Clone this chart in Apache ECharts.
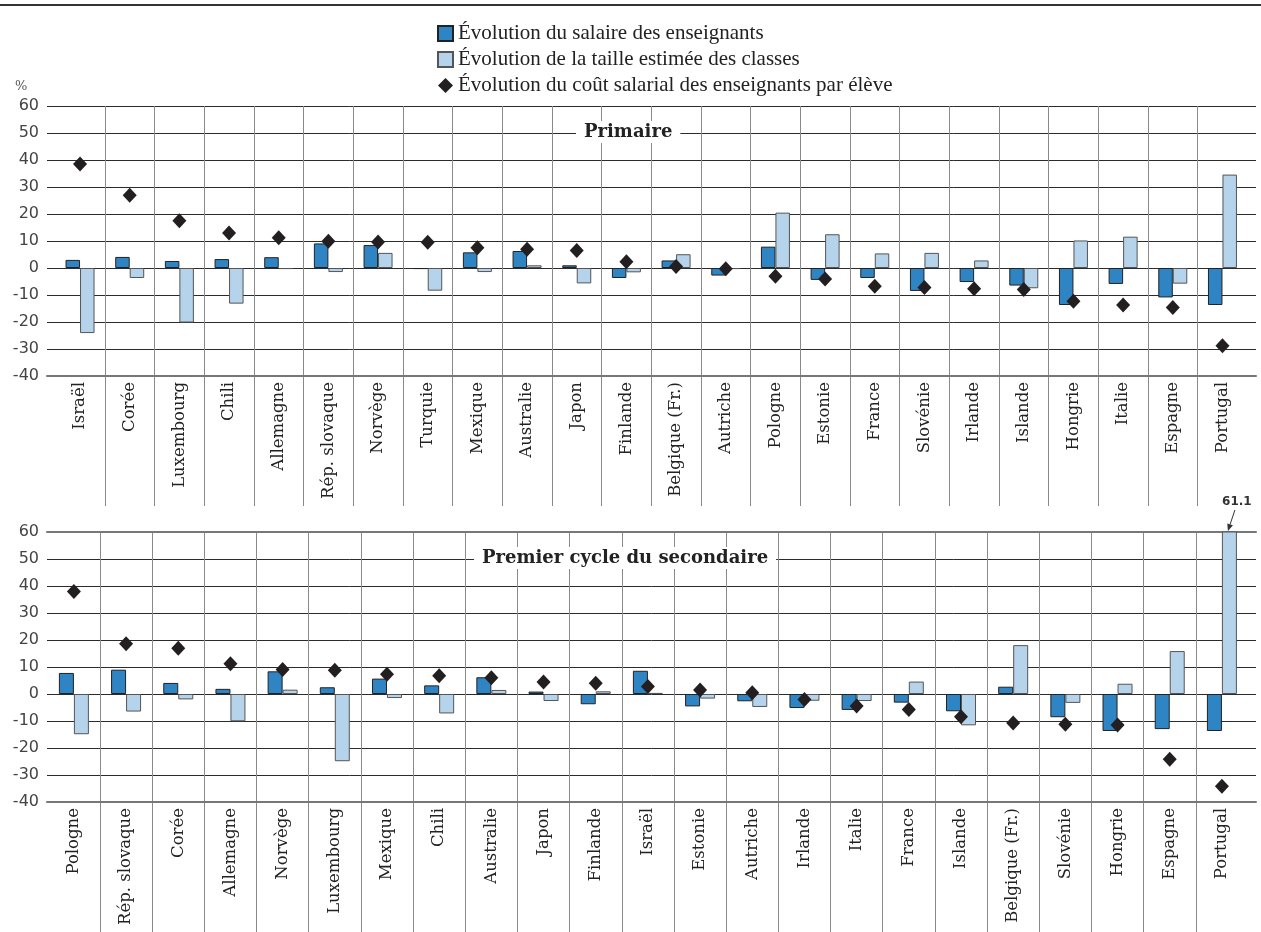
<!DOCTYPE html>
<html>
<head>
<meta charset="utf-8">
<script src="https://cdn.jsdelivr.net/npm/echarts@6/dist/echarts.min.js"></script>
<style>
html,body{margin:0;padding:0;background:#fff;}
#c{width:1261px;height:932px;}
</style>
</head>
<body>
<div id="c"></div>
<script>
// ---- data ----
const seriesNames = ['Évolution du salaire des enseignants', 'Évolution de la taille estimée des classes', 'Évolution du coût salarial des enseignants par élève'];
const panelTitles = ['Primaire', 'Premier cycle du secondaire'];
const yMin = -40, yMax = 60, yStep = 10;

const catPrim = ['Israël','Corée','Luxembourg','Chili','Allemagne','Rép. slovaque','Norvège','Turquie','Mexique','Australie','Japon','Finlande','Belgique (Fr.)','Autriche','Pologne','Estonie','France','Slovénie','Irlande','Islande','Hongrie','Italie','Espagne','Portugal'];
const salPrim = [3.0, 4.1, 2.6, 3.3, 4.0, 9.1, 8.5, -0.4, 5.8, 6.3, 1.0, -3.7, 2.8, -2.8, 7.9, -4.4, -3.7, -8.5, -5.2, -6.5, -13.7, -5.9, -10.9, -13.7];
const taillePrim = [-24.1, -3.7, -20.2, -13.2, -0.4, -1.5, 5.6, -8.4, -1.5, 1.0, -5.7, -1.6, 5.1, -0.4, 20.5, 12.5, 5.4, 5.6, 2.8, -7.5, 10.2, 11.6, -5.8, 34.6];
const coutPrim = [38.5, 26.9, 17.5, 13.0, 11.2, 9.9, 9.6, 9.5, 7.5, 6.9, 6.5, 2.3, 0.6, -0.3, -3.1, -4.1, -6.8, -7.2, -7.7, -8.0, -12.3, -13.7, -14.6, -28.8];

const catSec = ['Pologne','Rép. slovaque','Corée','Allemagne','Norvège','Luxembourg','Mexique','Chili','Australie','Japon','Finlande','Israël','Estonie','Autriche','Irlande','Italie','France','Islande','Belgique (Fr.)','Slovénie','Hongrie','Espagne','Portugal'];
const salSec = [7.8, 9.0, 4.1, 1.9, 8.4, 2.5, 5.7, 3.2, 6.2, 0.9, -3.8, 8.6, -4.6, -2.7, -5.2, -5.9, -3.2, -6.4, 2.7, -8.6, -13.7, -13.0, -13.7];
const tailleSec = [-14.9, -6.5, -2.0, -10.1, 1.6, -24.9, -1.5, -7.2, 1.5, -2.6, 1.0, 0.4, -1.7, -4.8, -2.5, -2.6, 4.6, -11.6, 18.1, -3.3, 3.8, 15.9, 61.1];
const coutSec = [38.0, 18.6, 16.9, 11.2, 9.1, 8.8, 7.3, 6.8, 6.0, 4.4, 4.0, 2.8, 1.5, 0.5, -2.0, -4.4, -5.7, -8.4, -10.7, -11.2, -11.5, -24.2, -34.2];
const outlierCategory = 'Portugal';
const outlierLabel = '61.1';

// ---- styles ----
const DARK = '#2f84c4', LIGHT = '#b5d3eb', DIAM = '#231f20';
const VLINE = '#8a8a8a', HLINE = '#2b2b2b';

const chart = echarts.init(document.getElementById('c'), null, {renderer: 'canvas'});

function frameX(gridIndex, position, showLine) {
  return {
    gridIndex, type: 'category', data: [''], position,
    axisLine: {show: showLine, onZero: false, lineStyle: {color: '#777', width: 2}},
    axisTick: {show: false}, axisLabel: {show: false}, splitLine: {show: false}
  };
}
function catX(gridIndex, data, labels) {
  return {
    gridIndex, type: 'category', data, boundaryGap: true,
    axisLine: {show: false, onZero: false}, axisTick: {show: false},
    axisLabel: labels ? {
      show: true, interval: 0, rotate: 90, margin: 6,
      fontFamily: 'DejaVu Serif', fontSize: 16.5, color: '#222'
    } : {show: false},
    splitLine: {show: true, showMinLine: false, showMaxLine: false, interval: 0,
      lineStyle: {color: VLINE, width: 1}}
  };
}
function frameY(gridIndex) {
  return {
    gridIndex, type: 'value', min: yMin, max: yMax, interval: yStep,
    axisLine: {show: false}, axisTick: {show: false},
    axisLabel: {fontFamily: 'DejaVu Sans', fontSize: 16, color: '#444', margin: 8},
    splitLine: {show: true, lineStyle: {color: HLINE, width: 1}}
  };
}
function hiddenY(gridIndex) {
  return {gridIndex, type: 'value', min: yMin, max: yMax, interval: yStep, show: false};
}

const barBase = {type: 'bar', barWidth: 15, barGap: '0%', z: 3};
const diamondStyle = {color: DIAM, opacity: 1};

const option = {
  animation: false,
  backgroundColor: '#fff',
  legend: {
    orient: 'vertical', left: 432, top: 18, itemWidth: 15, itemHeight: 15, itemGap: 5,
    textStyle: {fontFamily: 'Liberation Serif', fontSize: 21, color: '#222'},
    data: [
      {name: seriesNames[0], icon: 'rect'},
      {name: seriesNames[1], icon: 'rect'},
      {name: seriesNames[2], icon: 'diamond'}
    ]
  },
  title: [
    {text: panelTitles[0], left: 576, top: 121, backgroundColor: '#fff', padding: [2, 8],
      textStyle: {fontFamily: 'DejaVu Serif', fontWeight: 'bold', fontSize: 18, color: '#222'}},
    {text: panelTitles[1], left: 474, top: 547, backgroundColor: '#fff', padding: [2, 8],
      textStyle: {fontFamily: 'DejaVu Serif', fontWeight: 'bold', fontSize: 18, color: '#222'}}
  ],
  grid: [
    {left: 47, right: 5, top: 106, height: 270},
    {left: 55.2, right: 13.7, top: 106, height: 270},
    {left: 55.2, right: 13.7, top: 376, height: 130},
    {left: 47, right: 5, top: 532, height: 270},
    {left: 47.8, right: 13, top: 532, height: 270},
    {left: 47.8, right: 13, top: 802, height: 130}
  ],
  xAxis: [
    frameX(0, 'bottom', true),
    catX(1, catPrim, true),
    catX(2, catPrim, false),
    frameX(3, 'bottom', true),
    frameX(3, 'top', true),
    catX(4, catSec, true),
    catX(5, catSec, false)
  ],
  yAxis: [
    frameY(0), hiddenY(1), hiddenY(2),
    frameY(3), hiddenY(4), hiddenY(5)
  ],
  series: [
    Object.assign({}, barBase, {name: seriesNames[0], xAxisIndex: 1, yAxisIndex: 1, data: salPrim, barWidth: 14.5,
      itemStyle: {color: DARK, borderColor: '#222', borderWidth: 1}}),
    Object.assign({}, barBase, {name: seriesNames[1], xAxisIndex: 1, yAxisIndex: 1, data: taillePrim, barWidth: 14.5,
      itemStyle: {color: LIGHT, borderColor: '#555', borderWidth: 1}}),
    {type: 'scatter', name: seriesNames[2], xAxisIndex: 1, yAxisIndex: 1, data: coutPrim,
      symbol: 'diamond', symbolSize: [14, 15], itemStyle: diamondStyle, z: 5},

    Object.assign({}, barBase, {name: seriesNames[0], xAxisIndex: 5, yAxisIndex: 4, data: salSec,
      itemStyle: {color: DARK, borderColor: '#222', borderWidth: 1}}),
    Object.assign({}, barBase, {name: seriesNames[1], xAxisIndex: 5, yAxisIndex: 4, data: tailleSec,
      itemStyle: {color: LIGHT, borderColor: '#555', borderWidth: 1}}),
    {type: 'scatter', name: seriesNames[2], xAxisIndex: 5, yAxisIndex: 4, data: coutSec,
      symbol: 'diamond', symbolSize: [14, 15], itemStyle: diamondStyle, z: 5}
  ]
};
chart.setOption(option);

// annotation for the clipped outlier bar, positioned through the chart's own scales
const tip = chart.convertToPixel({xAxisIndex: 5, yAxisIndex: 4}, [outlierCategory, yMax]);
const tx = tip[0] + 6, ty = tip[1] - 1;
const sx = tx + 7, sy = ty - 21;
const ang = Math.atan2(ty - sy, tx - sx);
const ah = 7, aw = 3;
const bx = tx - ah * Math.cos(ang), by = ty - ah * Math.sin(ang);
chart.setOption({
  graphic: [
    {type: 'line', shape: {x1: 0, y1: 5, x2: 1261, y2: 5}, style: {stroke: '#333', lineWidth: 2}},
    {type: 'text', left: 15, top: 80, style: {text: '%', font: '13px "DejaVu Serif"', fill: '#555'}},
    {type: 'line', shape: {x1: sx, y1: sy, x2: bx, y2: by}, style: {stroke: '#333', lineWidth: 1}, z: 10},
    {type: 'polygon', shape: {points: [[tx, ty],
      [bx + aw * Math.sin(ang), by - aw * Math.cos(ang)],
      [bx - aw * Math.sin(ang), by + aw * Math.cos(ang)]]}, style: {fill: '#333'}, z: 10},
    {type: 'text', x: sx + 2, y: sy - 2, z: 10,
      style: {text: outlierLabel, font: 'bold 12px "DejaVu Sans"', fill: '#333', align: 'center', verticalAlign: 'bottom'}}
  ]
});
</script>
</body>
</html>
